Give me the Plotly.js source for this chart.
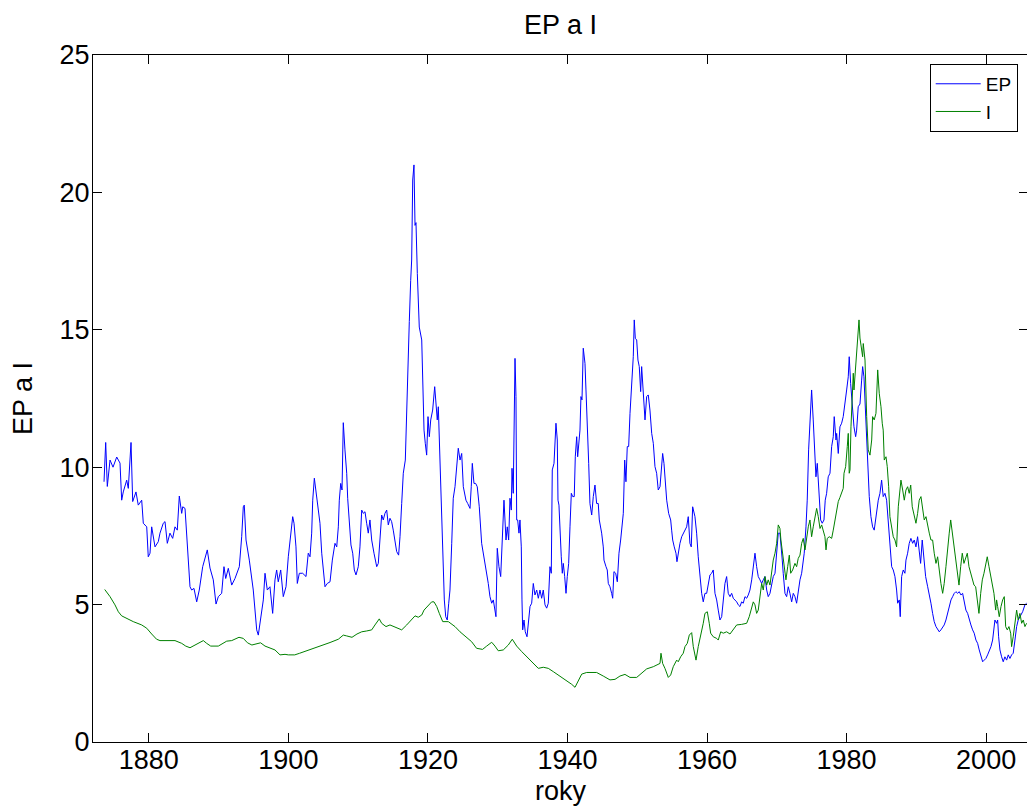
<!DOCTYPE html>
<html>
<head>
<meta charset="utf-8">
<script src="https://cdn.plot.ly/plotly-3.0.1.min.js"></script>
<style>
html,body{margin:0;padding:0;background:#fff;overflow:hidden;}
#chart{width:1028px;height:807px;}
</style>
</head>
<body>
<div id="chart"></div>
<script>
const xTickYears = [1880, 1900, 1920, 1940, 1960, 1980, 2000];
const xTickLabels = ['1880', '1900', '1920', '1940', '1960', '1980', '2000'];
const yTickValues = [0, 5, 10, 15, 20, 25];
const seriesNames = ['EP', 'I'];

const epYears = [
1873.58,1873.82,1874.05,1874.44,1874.87,1875.40,1875.87,1876.11,1876.34,1876.83,
1877.06,1877.45,1877.69,1878.16,1878.49,1878.98,1879.21,1879.45,1879.70,1879.92,
1880.17,1880.41,1880.89,1881.36,1881.60,1882.07,1882.32,1882.65,1883.03,1883.42,
1883.75,1884.08,1884.37,1884.71,1884.86,1885.19,1885.51,1885.72,1885.90,1886.14,
1886.47,1886.86,1887.23,1887.72,1888.38,1888.77,1889.24,1889.63,1889.96,1890.44,
1890.77,1891.02,1891.39,1891.88,1892.35,1892.97,1893.31,1893.54,1893.68,1893.93,
1894.40,1894.97,1895.22,1895.46,1895.69,1895.93,1896.18,1896.41,1896.65,1896.98,
1897.36,1897.75,1898.08,1898.32,1898.55,1898.90,1899.27,1899.66,1899.99,1900.33,
1900.62,1900.81,1901.09,1901.28,1901.57,1902.05,1902.53,1902.85,1903.10,1903.34,
1903.49,1903.72,1904.06,1904.29,1904.53,1904.78,1905.01,1905.25,1905.58,1905.97,
1906.30,1906.44,1906.68,1906.93,1907.16,1907.30,1907.50,1907.69,1907.87,1908.11,
1908.36,1908.50,1908.73,1908.97,1909.22,1909.45,1909.69,1910.02,1910.26,1910.51,
1910.74,1910.98,1911.22,1911.45,1911.69,1911.94,1912.27,1912.66,1912.89,1913.13,
1913.37,1913.60,1913.84,1914.09,1914.32,1914.56,1914.80,1915.03,1915.32,1915.52,
1915.80,1916.00,1916.24,1916.47,1916.76,1916.96,1917.10,1917.33,1917.53,1917.67,
1917.82,1918.00,1918.15,1918.29,1918.48,1918.76,1919.11,1919.25,1919.44,1919.62,
1919.82,1920.01,1920.20,1920.40,1920.68,1920.97,1921.16,1921.34,1921.49,1921.73,
1921.97,1922.20,1922.35,1922.55,1922.77,1922.98,1923.16,1923.41,1923.63,1923.88,
1924.12,1924.35,1924.60,1924.84,1925.07,1925.27,1925.45,1925.70,1926.03,1926.21,
1926.36,1926.60,1926.84,1927.07,1927.36,1927.70,1928.03,1928.42,1928.65,1928.89,
1929.14,1929.37,1929.75,1929.94,1930.18,1930.43,1930.61,1930.90,1931.19,1931.37,
1931.57,1931.76,1931.95,1932.05,1932.23,1932.38,1932.48,1932.62,1932.72,1932.86,
1933.05,1933.19,1933.38,1933.48,1933.58,1933.77,1933.95,1934.20,1934.44,1934.63,
1934.87,1935.10,1935.34,1935.59,1935.82,1936.06,1936.30,1936.53,1936.78,1937.02,
1937.25,1937.49,1937.68,1937.82,1938.07,1938.21,1938.35,1938.54,1938.64,1938.78,
1938.93,1939.11,1939.26,1939.40,1939.60,1939.79,1939.97,1940.17,1940.36,1940.55,
1940.75,1940.97,1941.12,1941.32,1941.46,1941.65,1941.79,1941.93,1942.08,1942.26,
1942.51,1942.65,1942.84,1943.04,1943.22,1943.47,1943.70,1943.94,1944.18,1944.41,
1944.56,1944.90,1945.13,1945.23,1945.52,1945.70,1945.85,1946.09,1946.33,1946.48,
1946.66,1946.91,1947.14,1947.38,1947.62,1947.81,1948.00,1948.20,1948.38,1948.57,
1948.77,1948.96,1949.20,1949.43,1949.57,1949.72,1949.92,1950.10,1950.29,1950.49,
1950.63,1950.86,1951.11,1951.35,1951.58,1951.82,1952.07,1952.30,1952.54,1952.78,
1953.01,1953.26,1953.50,1953.64,1953.83,1954.01,1954.22,1954.50,1954.79,1954.93,
1955.08,1955.30,1955.55,1955.69,1955.94,1956.12,1956.37,1956.59,1956.84,1957.08,
1957.31,1957.55,1957.74,1957.94,1958.27,1958.51,1958.74,1958.99,1959.23,1959.46,
1959.70,1959.95,1960.18,1960.42,1960.66,1960.89,1961.14,1961.38,1961.61,1961.85,
1962.10,1962.33,1962.57,1962.81,1963.04,1963.29,1963.53,1963.76,1964.00,1964.25,
1964.48,1964.72,1964.96,1965.19,1965.44,1965.68,1965.91,1966.15,1966.40,1966.63,
1966.87,1967.11,1967.34,1967.59,1967.83,1968.06,1968.30,1968.55,1968.77,1969.02,
1969.26,1969.49,1969.74,1969.98,1970.21,1970.45,1970.59,1970.78,1970.92,1971.17,
1971.41,1971.64,1971.88,1972.13,1972.36,1972.60,1972.84,1973.07,1973.32,1973.56,
1973.79,1973.93,1974.18,1974.36,1974.56,1974.75,1974.99,1975.22,1975.47,1975.61,
1975.80,1976.08,1976.28,1976.51,1976.76,1976.94,1977.14,1977.37,1977.62,1977.86,
1978.09,1978.23,1978.48,1978.58,1978.81,1979.05,1979.29,1979.52,1979.77,1980.01,
1980.24,1980.38,1980.58,1980.81,1981.06,1981.30,1981.44,1981.67,1981.92,1982.16,
1982.30,1982.49,1982.67,1982.88,1982.96,1983.10,1983.25,1983.49,1983.73,1983.96,
1984.21,1984.54,1984.78,1985.02,1985.25,1985.50,1985.74,1985.97,1986.21,1986.46,
1986.69,1986.93,1987.17,1987.32,1987.55,1987.69,1987.89,1988.12,1988.36,1988.51,
1988.75,1988.98,1989.22,1989.47,1989.70,1989.94,1990.18,1990.41,1990.61,1990.84,
1991.09,1991.33,1991.62,1991.85,1992.09,1992.33,1992.56,1992.81,1993.05,1993.28,
1993.52,1993.77,1993.99,1994.24,1994.48,1994.71,1994.96,1995.20,1995.43,1995.67,
1995.92,1996.14,1996.39,1996.63,1996.86,1997.10,1997.35,1997.58,1997.82,1998.06,
1998.29,1998.54,1998.78,1999.01,1999.25,1999.50,1999.73,1999.97,2000.21,2000.44,
2000.69,2000.93,2001.12,2001.26,2001.50,2001.65,2001.79,2001.98,2002.22,2002.45,
2002.69,2002.94,2003.17,2003.41,2003.65,2003.88,2004.13,2004.37,2004.60,2004.84,
2005.23,2005.56,2005.80
];
const epValues = [
9.47,10.9,9.3,10.26,10.0,10.37,10.15,8.8,9.1,9.53,
9.23,10.9,8.75,9.1,8.62,8.8,7.96,7.9,7.83,6.74,
6.87,7.83,7.1,7.29,7.6,7.96,8.02,7.23,7.6,7.41,
7.83,7.71,8.95,8.32,8.56,8.5,7.35,6.62,5.65,5.53,
5.59,5.1,5.53,6.38,6.99,6.33,5.9,5.02,5.29,5.41,
6.38,5.95,6.32,5.71,5.95,6.38,7.47,8.56,8.62,7.35,
6.62,5.53,4.8,4.08,3.89,4.32,4.87,5.17,6.14,5.53,
5.65,4.68,5.9,6.26,5.83,6.26,5.29,5.65,6.74,7.6,
8.2,7.96,7.1,5.77,6.14,6.14,6.02,6.87,6.74,7.6,
8.8,9.6,8.86,8.44,7.96,6.87,6.26,5.65,5.77,5.83,
6.62,6.87,7.23,7.1,7.83,8.8,9.41,9.17,11.62,10.63,
9.78,8.87,7.96,7.17,6.87,6.26,6.08,6.38,7.1,8.44,
8.32,8.38,7.96,7.6,8.08,7.35,6.87,6.38,6.5,7.35,
8.26,8.08,8.32,8.44,7.9,8.14,8.02,7.71,7.17,6.93,
6.8,7.47,8.68,9.78,10.26,12.2,13.9,15.3,16.8,17.54,
20.45,21.0,18.8,18.9,17.05,15.1,14.63,13.42,11.35,10.87,
10.44,11.84,11.11,11.72,12.08,12.93,12.2,11.72,12.2,10.38,
8.8,6.74,5.17,4.56,4.44,5.05,5.53,7.23,8.87,9.29,
9.9,10.69,10.26,10.5,9.29,9.05,8.8,8.68,8.5,9.29,
10.14,9.41,9.41,9.29,8.56,7.23,6.74,6.02,5.77,5.29,
5.05,5.17,4.56,7.05,6.38,6.02,7.1,8.8,7.35,7.83,
7.35,8.87,8.44,9.96,9.05,12.2,13.96,12.57,8.08,8.08,
7.6,8.08,7.1,5.17,4.08,4.44,4.01,3.83,4.44,4.93,
5.05,5.77,5.35,5.53,5.23,5.53,5.23,5.53,4.99,4.87,
5.05,6.38,6.14,9.9,10.14,10.99,11.6,10.99,8.8,8.62,
7.47,6.74,6.14,6.5,6.02,5.41,6.02,6.5,7.83,9.05,
8.93,8.93,10.38,11.11,10.38,11.11,11.35,12.57,12.45,14.33,
13.78,12.81,11.11,10.14,8.68,8.26,8.93,9.35,8.68,8.68,
8.08,7.6,7.1,6.62,6.38,6.26,5.77,5.65,5.41,5.23,
6.2,6.14,5.83,6.87,7.35,7.83,8.32,10.26,9.47,10.75,
10.75,11.96,13.17,14.02,15.36,14.69,14.63,13.9,13.66,12.75,
13.66,12.57,11.72,12.57,12.63,12.08,11.23,10.87,10.02,9.78,
9.17,9.29,10.02,10.5,10.14,9.47,8.8,8.32,8.08,7.71,
7.35,7.1,6.87,6.56,6.99,7.23,7.47,7.6,7.71,7.83,
8.2,7.23,7.1,8.56,8.2,7.6,6.74,5.9,5.41,5.1,
5.41,5.41,5.77,6.08,6.14,6.26,5.41,5.17,4.8,4.44,
4.56,5.17,5.77,6.02,5.41,5.29,5.41,5.23,5.17,5.1,
4.99,4.93,5.1,5.05,5.29,5.23,5.35,5.53,5.9,6.5,
6.87,6.38,6.02,5.9,5.77,5.9,6.02,5.53,5.29,5.41,
5.77,6.02,6.14,6.87,7.6,7.6,6.99,6.62,6.14,5.41,
5.29,5.65,5.41,5.1,5.41,5.29,5.05,5.53,5.9,6.14,
6.5,6.87,7.83,8.8,10.63,11.84,12.81,11.72,10.26,9.65,
10.14,9.05,8.08,7.96,8.08,8.8,9.05,9.65,9.78,10.75,
11.11,11.84,10.99,11.23,10.5,11.47,11.6,11.84,12.45,12.81,
13.29,14.02,13.05,12.08,11.47,11.11,11.35,12.2,12.3,13.17,
13.66,13.29,12.3,11.23,10.5,9.78,8.93,8.2,7.83,7.71,
8.2,8.8,9.05,9.53,8.93,9.05,8.8,8.08,7.23,6.38,
6.26,6.02,5.53,5.05,5.17,4.56,6.02,6.26,6.14,6.62,
6.87,7.23,7.41,7.23,7.35,7.1,7.47,6.99,6.5,7.35,
6.74,6.02,5.65,5.41,5.05,4.68,4.38,4.2,4.08,4.01,
4.08,4.2,4.26,4.44,4.68,4.86,5.17,5.29,5.41,5.47,
5.41,5.47,5.35,5.41,5.05,4.8,4.68,4.44,4.26,4.08,
3.96,3.71,3.59,3.35,3.1,2.92,2.98,3.04,3.17,3.29,
3.47,3.71,4.08,4.44,4.32,4.44,3.83,3.35,3.1,2.92,
3.1,2.98,3.17,3.04,3.17,3.23,3.71,4.2,4.44,4.56,
4.74,4.99,5.05
];

const iYears = [
1873.68,1874.44,1875.15,1875.63,1876.11,1876.83,1877.77,1878.98,1879.70,1880.41,
1881.11,1881.60,1882.56,1883.75,1884.71,1885.29,1885.90,1886.62,1887.33,1887.81,
1888.29,1888.87,1889.96,1890.67,1891.16,1891.88,1892.35,1892.92,1893.54,1894.14,
1894.77,1895.46,1896.02,1896.65,1897.36,1898.08,1898.80,1899.52,1899.99,1900.91,
1901.62,1902.34,1902.85,1904.53,1905.97,1907.16,1907.87,1908.36,1909.12,1909.83,
1910.51,1911.22,1911.94,1912.41,1913.03,1913.37,1913.99,1914.56,1915.18,1915.75,
1916.24,1916.96,1917.67,1918.15,1918.62,1919.11,1919.44,1920.05,1920.54,1920.87,
1921.26,1921.63,1922.12,1922.92,1923.88,1924.60,1925.54,1926.26,1926.97,1927.83,
1928.42,1929.14,1929.61,1930.08,1930.80,1931.52,1932.09,1932.72,1933.44,1934.15,
1935.10,1935.82,1936.53,1937.25,1937.97,1938.93,1939.89,1940.60,1941.08,1941.55,
1942.04,1942.75,1944.18,1945.13,1946.09,1946.81,1947.52,1948.24,1948.96,1949.92,
1950.63,1951.35,1952.30,1953.26,1953.40,1953.64,1953.97,1954.45,1954.79,1955.16,
1955.65,1955.88,1956.22,1956.59,1956.84,1957.17,1957.46,1957.80,1958.03,1958.42,
1958.74,1959.09,1959.46,1959.70,1960.04,1960.32,1960.52,1960.89,1961.38,1961.61,
1961.96,1962.33,1962.81,1963.29,1963.76,1964.25,1964.96,1965.68,1966.05,1966.40,
1966.63,1966.87,1967.11,1967.34,1967.59,1967.83,1968.06,1968.30,1968.55,1968.77,
1969.02,1969.26,1969.49,1969.74,1969.98,1970.21,1970.45,1970.59,1970.84,1971.07,
1971.31,1971.56,1971.79,1971.99,1972.27,1972.60,1972.84,1973.07,1973.32,1973.56,
1973.79,1974.04,1974.28,1974.51,1974.75,1974.99,1975.22,1975.47,1975.71,1975.94,
1976.19,1976.43,1976.66,1976.90,1977.05,1977.23,1977.52,1977.86,1978.09,1978.34,
1978.58,1978.81,1979.05,1979.29,1979.52,1979.63,1979.87,1980.10,1980.24,1980.38,
1980.49,1980.63,1980.81,1980.96,1981.06,1981.30,1981.44,1981.59,1981.78,1981.92,
1982.11,1982.30,1982.39,1982.49,1982.64,1982.88,1983.10,1983.35,1983.60,1983.73,
1983.96,1984.21,1984.46,1984.68,1984.93,1985.11,1985.25,1985.40,1985.65,1985.83,
1986.03,1986.21,1986.46,1986.69,1986.93,1987.17,1987.41,1987.65,1987.79,1988.04,
1988.27,1988.51,1988.75,1988.98,1989.19,1989.41,1989.70,1989.94,1990.18,1990.41,
1990.66,1990.90,1991.13,1991.38,1991.62,1991.85,1992.09,1992.33,1992.56,1992.81,
1993.05,1993.28,1993.52,1993.77,1993.99,1994.24,1994.48,1994.71,1994.92,1995.15,
1995.39,1995.63,1995.86,1996.11,1996.35,1996.58,1996.82,1997.07,1997.30,1997.54,
1997.78,1998.01,1998.26,1998.50,1998.73,1998.97,1999.22,1999.45,1999.69,1999.93,
2000.16,2000.41,2000.65,2000.88,2001.12,2001.37,2001.50,2001.65,2001.88,2002.13,
2002.37,2002.60,2002.80,2003.03,2003.27,2003.52,2003.65,2003.88,2004.13,2004.37,
2004.60,2004.84,2005.09,2005.32,2005.56,2005.80
];
const iValues = [
5.55,5.29,4.99,4.74,4.59,4.5,4.38,4.26,4.14,3.93,
3.74,3.69,3.69,3.69,3.59,3.49,3.43,3.53,3.63,3.69,
3.59,3.49,3.49,3.61,3.67,3.69,3.74,3.81,3.77,3.61,
3.53,3.59,3.61,3.49,3.41,3.35,3.17,3.19,3.17,3.17,
3.23,3.29,3.35,3.5,3.62,3.74,3.89,3.86,3.81,3.93,
4.01,4.04,4.08,4.26,4.48,4.32,4.2,4.26,4.2,4.14,
4.08,4.26,4.44,4.59,4.54,4.62,4.8,4.99,5.1,5.1,
4.93,4.68,4.38,4.38,4.2,4.01,3.81,3.65,3.41,3.37,
3.49,3.63,3.49,3.32,3.35,3.53,3.74,3.49,3.29,3.1,
2.84,2.68,2.72,2.68,2.56,2.4,2.23,2.1,1.99,2.23,
2.47,2.53,2.53,2.4,2.26,2.28,2.4,2.46,2.35,2.35,
2.5,2.66,2.74,2.86,3.23,2.86,2.68,2.35,2.44,2.74,
2.98,2.92,3.1,3.23,3.47,3.59,3.89,3.98,3.47,2.98,
3.47,3.83,4.32,4.68,4.74,4.32,3.96,3.83,3.77,3.71,
4.01,3.96,4.01,3.93,4.08,4.26,4.28,4.32,4.56,4.93,
5.1,4.99,4.68,4.8,5.41,5.77,5.53,6.02,5.71,5.9,
5.71,6.26,6.62,6.87,7.23,7.9,7.77,7.35,6.87,6.38,
5.9,6.38,6.8,6.14,6.26,6.5,6.38,6.68,6.8,7.23,
7.41,6.99,7.47,7.83,8.08,7.47,7.83,8.26,8.5,8.2,
7.77,7.9,7.65,7.47,6.99,7.41,7.47,7.41,7.71,8.08,
8.44,8.75,8.9,9.05,9.23,9.78,10.02,10.75,11.23,9.78,
9.9,11.47,12.69,13.42,12.81,13.66,14.38,14.99,15.36,14.7,
14.38,14.02,14.5,14.26,13.9,11.84,10.63,10.44,10.99,11.84,
11.72,11.96,13.54,12.69,12.2,11.6,11.35,10.26,10.38,10.02,
9.29,8.2,7.71,7.47,7.35,7.1,8.56,9.05,9.53,9.17,
8.8,9.17,9.29,9.05,9.35,8.56,8.2,7.96,8.32,8.8,
8.93,8.44,8.08,8.2,7.83,7.6,7.35,7.35,6.87,6.5,
6.74,6.14,5.77,5.41,5.77,6.38,7.1,7.6,8.08,7.6,
6.99,6.5,6.14,5.71,6.38,6.87,6.5,6.74,6.87,6.38,
6.14,5.9,5.71,5.65,5.17,4.68,5.41,5.9,6.14,6.5,
6.74,6.38,6.02,5.77,5.41,4.8,5.17,4.93,4.56,4.93,
5.17,5.29,4.2,4.08,4.2,3.96,3.47,3.83,4.44,4.8,
4.44,4.68,4.32,4.44,4.2,4.32
];

const FONT = '"Liberation Sans", Arial, Helvetica, sans-serif';

const traces = [
  {x: epYears, y: epValues, name: seriesNames[0], type: 'scatter', mode: 'lines',
   line: {color: '#0000FF', width: 1}},
  {x: iYears, y: iValues, name: seriesNames[1], type: 'scatter', mode: 'lines',
   line: {color: '#008000', width: 1}}
];

const axisCommon = {
  showline: true, linecolor: '#000', linewidth: 1, mirror: 'ticks',
  ticks: 'inside', ticklen: 9, tickwidth: 1, tickcolor: '#000',
  showgrid: false, zeroline: false,
  tickfont: {family: FONT, size: 27, color: '#000'}
};

const layout = {
  width: 1028, height: 807,
  margin: {l: 93, r: 0, t: 55, b: 65, pad: 0},
  paper_bgcolor: '#fff', plot_bgcolor: '#fff',
  font: {family: FONT, color: '#000'},
  title: {text: 'EP a I', font: {family: FONT, size: 27, color: '#000'},
          xref: 'paper', x: 0.5, xanchor: 'center', yref: 'container', y: 0.969, yanchor: 'middle'},
  xaxis: Object.assign({}, axisCommon, {
    range: [1872, 2006], tickmode: 'array', tickvals: xTickYears, ticktext: xTickLabels,
    ticklabelstandoff: -6,
    title: {text: 'roky', font: {family: FONT, size: 27, color: '#000'}, standoff: 6}
  }),
  yaxis: Object.assign({}, axisCommon, {
    range: [0, 25], tickmode: 'array', tickvals: yTickValues, ticktext: yTickValues.map(String),
    ticklabelstandoff: -3,
    title: {text: 'EP a I', font: {family: FONT, size: 27, color: '#000'}, standoff: 19}
  }),
  showlegend: true,
  legend: {x: 0.989, y: 0.987, xanchor: 'right', yanchor: 'top',
           bgcolor: '#fff', bordercolor: '#000', borderwidth: 1,
           itemwidth: 45, entrywidth: 75,
           font: {family: FONT, size: 19, color: '#000'}, tracegroupgap: 0}
};

Plotly.newPlot('chart', traces, layout, {staticPlot: true, displayModeBar: false});
</script>
</body>
</html>
